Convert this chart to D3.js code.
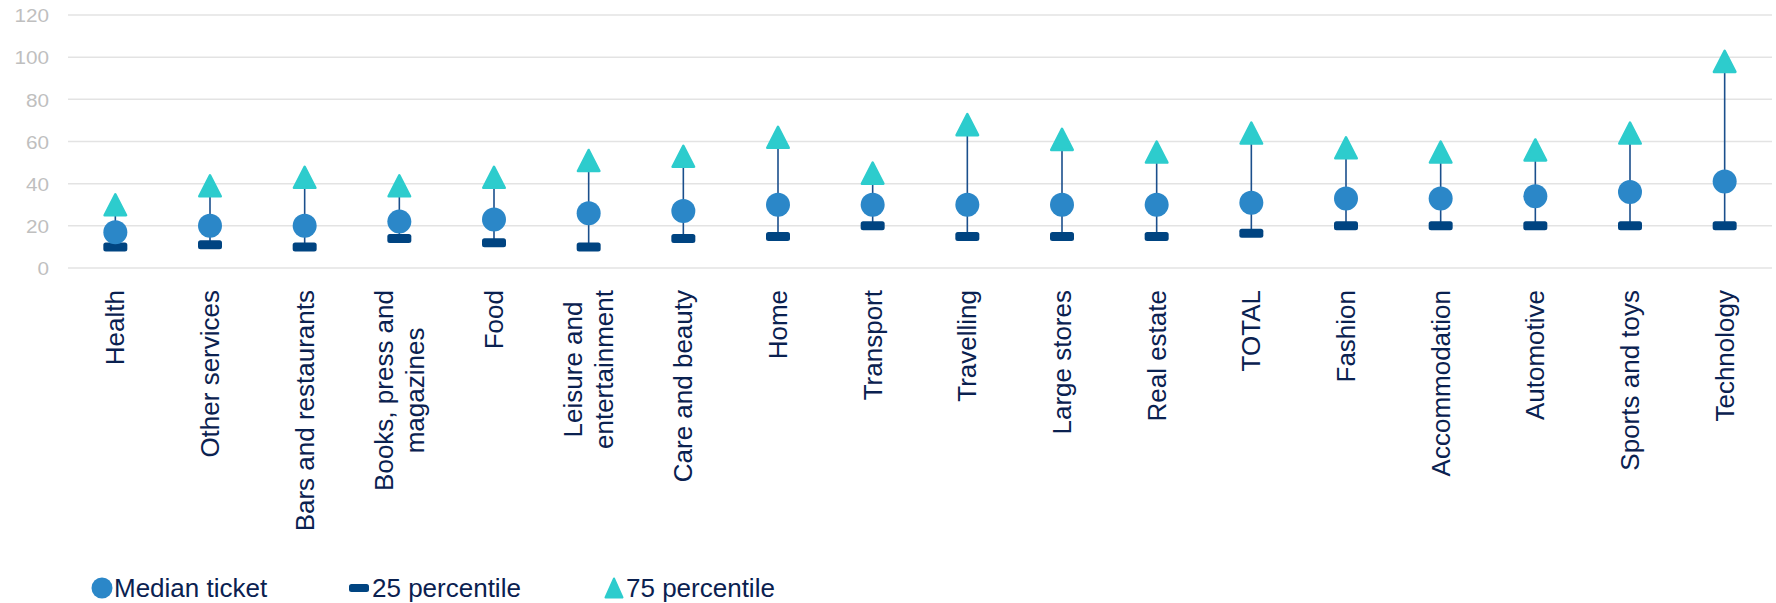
<!DOCTYPE html>
<html>
<head>
<meta charset="utf-8">
<script src="https://cdn.jsdelivr.net/npm/d3@7/dist/d3.min.js"></script>
<style>
  html, body { margin: 0; padding: 0; background: #ffffff; }
  svg { display: block; font-family: "Liberation Sans", Arial, sans-serif; }
</style>
</head>
<body>
<svg id="chart" width="1776" height="603"></svg>
<script>
// Ticket distribution by sector (euros)
const categories = ["Health", "Other services", "Bars and restaurants", "Books, press and magazines",
  "Food", "Leisure and entertainment", "Care and beauty", "Home", "Transport", "Travelling",
  "Large stores", "Real estate", "TOTAL", "Fashion", "Accommodation", "Automotive",
  "Sports and toys", "Technology"];
const categoryLines = [["Health"], ["Other services"], ["Bars and restaurants"], ["Books, press and", "magazines"],
  ["Food"], ["Leisure and", "entertainment"], ["Care and beauty"], ["Home"], ["Transport"], ["Travelling"],
  ["Large stores"], ["Real estate"], ["TOTAL"], ["Fashion"], ["Accommodation"], ["Automotive"],
  ["Sports and toys"], ["Technology"]];
const medianTicket = [17, 20, 20, 22, 23, 26, 27, 30, 30, 30, 30, 30, 31, 33, 33, 34, 36, 41];
const percentile25 = [10, 11, 10, 14, 12, 10, 14, 15, 20, 15, 15, 15, 16.5, 20, 20, 20, 20, 20];
const percentile75 = [30, 39, 43, 39, 43, 51, 53, 62, 45, 68, 61, 55, 64, 57, 55, 56, 64, 98];
const yTicks = [0, 20, 40, 60, 80, 100, 120];
const seriesNames = ["Median ticket", "25 percentile", "75 percentile"];

const colors = { median: "#2b87c8", p25: "#004481", p75: "#2dcccd", range: "#1b4f8c",
  grid: "#e3e3e3", yText: "#bfbfbf", text: "#0a2150" };

const svg = d3.select("#chart");
const plot = { left: 68, right: 1772, top: 15, bottom: 268 };

const x = d3.scaleBand().domain(categories).range([plot.left, plot.right]);
const y = d3.scaleLinear().domain([0, 120]).range([plot.bottom, plot.top]);

// gridlines
svg.append("g").selectAll("line").data(yTicks).join("line")
  .attr("x1", plot.left).attr("x2", plot.right)
  .attr("y1", d => y(d)).attr("y2", d => y(d))
  .attr("stroke", colors.grid).attr("stroke-width", 1.5);

// y axis labels, slightly widened, anchored at their right edge
const yAxis = svg.append("g").attr("transform", `translate(${plot.left - 19},0)`)
  .call(d3.axisLeft(y).tickValues(yTicks).tickSize(0).tickPadding(0));
yAxis.select(".domain").remove();
yAxis.selectAll("text")
  .attr("fill", colors.yText).attr("font-size", 18.5).attr("text-anchor", "end")
  .attr("font-family", "Liberation Sans, Arial, sans-serif")
  .attr("x", null).attr("dy", "0.36em")
  .attr("transform", "scale(1.12,1)");

// x axis labels (rotated, top aligned, multi-line centred)
const labelTop = 290;
const lineH = 31;
const xLabels = svg.append("g").selectAll("g").data(categories).join("g")
  .attr("transform", d => `translate(${x(d) + x.bandwidth() / 2},${labelTop}) rotate(-90)`);
xLabels.each(function (d, i) {
  const g = d3.select(this);
  const lines = categoryLines[i];
  const texts = lines.map((ln, j) => g.append("text")
    .text(ln)
    .attr("font-size", 26)
    .attr("fill", colors.text)
    .attr("dominant-baseline", "central")
    .attr("y", (j - (lines.length - 1) / 2) * lineH));
  const maxLen = d3.max(texts, t => t.node().getComputedTextLength());
  texts.forEach(t => t.attr("text-anchor", "middle").attr("x", -maxLen / 2));
});

// range line from 25th to 75th percentile
const marks = svg.append("g");
marks.selectAll("line").data(categories).join("line")
  .attr("x1", d => x(d) + x.bandwidth() / 2).attr("x2", d => x(d) + x.bandwidth() / 2)
  .attr("y1", (d, i) => y(percentile25[i])).attr("y2", (d, i) => y(percentile75[i]))
  .attr("stroke", colors.range).attr("stroke-width", 1.6);

// 25 percentile dashes
marks.selectAll("rect.p25").data(categories).join("rect").attr("class", "p25")
  .attr("x", d => x(d) + x.bandwidth() / 2 - 12)
  .attr("y", (d, i) => y(percentile25[i]) - 4.5)
  .attr("width", 24).attr("height", 9).attr("rx", 2.5)
  .attr("fill", colors.p25);

// median circles
marks.selectAll("circle.median").data(categories).join("circle").attr("class", "median")
  .attr("cx", d => x(d) + x.bandwidth() / 2)
  .attr("cy", (d, i) => y(medianTicket[i]))
  .attr("r", 12).attr("fill", colors.median);

// 75 percentile triangles (bounding box centred on the value)
function triPath(w, h) {
  return `M0,${-h / 2}L${w / 2},${h / 2}L${-w / 2},${h / 2}Z`;
}
marks.selectAll("path.p75").data(categories).join("path").attr("class", "p75")
  .attr("transform", (d, i) => `translate(${x(d) + x.bandwidth() / 2},${y(percentile75[i])})`)
  .attr("d", triPath(21.5, 21))
  .attr("fill", colors.p75).attr("stroke", colors.p75)
  .attr("stroke-width", 2.5).attr("stroke-linejoin", "round");

// legend
const legendY = 588;
const legend = svg.append("g");
const legendItems = [
  { name: seriesNames[0], mx: 102, tx: 114 },
  { name: seriesNames[1], mx: 359, tx: 372 },
  { name: seriesNames[2], mx: 614, tx: 626 }
];
legend.append("circle").attr("cx", legendItems[0].mx).attr("cy", legendY).attr("r", 10.5)
  .attr("fill", colors.median);
legend.append("rect").attr("x", legendItems[1].mx - 10).attr("y", legendY - 4)
  .attr("width", 20).attr("height", 8).attr("rx", 2.5).attr("fill", colors.p25);
legend.append("path").attr("transform", `translate(${legendItems[2].mx},${legendY})`)
  .attr("d", triPath(17, 19)).attr("fill", colors.p75).attr("stroke", colors.p75)
  .attr("stroke-width", 2).attr("stroke-linejoin", "round");
legend.selectAll("text").data(legendItems).join("text")
  .attr("x", d => d.tx).attr("y", legendY)
  .attr("dominant-baseline", "central")
  .attr("font-size", 26).attr("fill", colors.text)
  .text(d => d.name);
</script>
</body>
</html>
